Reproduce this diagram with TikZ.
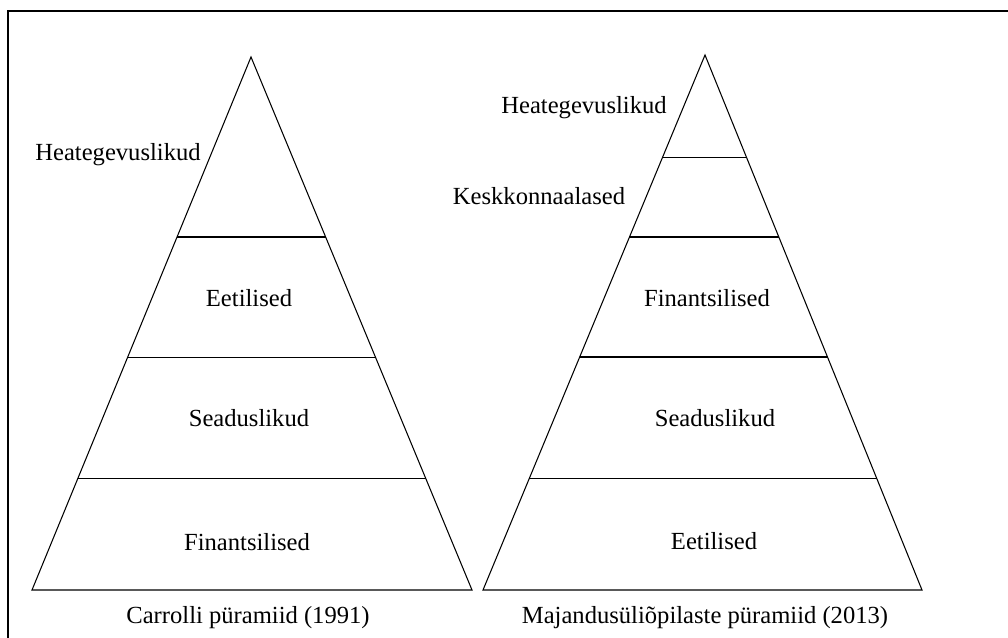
\documentclass[tikz,border=0pt]{standalone}
\usepackage{fontspec}
\setmainfont{Liberation Serif}
\usetikzlibrary{calc}

\begin{document}
\begin{tikzpicture}[
        x=0.02cm, y=-0.02cm,
        edge/.style = {
            draw=black,
            line width=0.6pt
        },
        frame/.style = {
            draw=black,
            line width=1.2pt
        },
        level/.style = {
            inner sep=0pt,
            font=\fontsize{14}{16}\selectfont
        }
    ]
    \useasboundingbox (0,0) rectangle (1008,637);

    % Frame
    \coordinate (fbl) at (8,640);
    \coordinate (ftl) at (8,11);
    \coordinate (ftr) at (1010,11);
    \draw[frame] (fbl) -- (ftl) -- (ftr);

    % Carroll pyramid
    \coordinate (ctop) at (251,57);
    \coordinate (cleft) at (32,590);
    \coordinate (cright) at (472,590);
    \draw[edge] (ctop) -- (cleft) -- (cright) -- cycle;
    \foreach \t/\n in {0.3377/a, 0.5629/b, 0.7899/c} {
        \coordinate (cl\n) at ($(ctop)!\t!(cleft)$);
        \coordinate (cr\n) at ($(ctop)!\t!(cright)$);
        \draw[edge] (cl\n) -- (cr\n);
    }

    % Students pyramid
    \coordinate (mtop) at (705,55);
    \coordinate (mleft) at (483,590);
    \coordinate (mright) at (922,590);
    \draw[edge] (mtop) -- (mleft) -- (mright) -- cycle;
    \foreach \t/\n in {0.1907/a, 0.3402/b, 0.5645/c, 0.7907/d} {
        \coordinate (ml\n) at ($(mtop)!\t!(mleft)$);
        \coordinate (mr\n) at ($(mtop)!\t!(mright)$);
        \draw[edge] (ml\n) -- (mr\n);
    }

    % Labels
    \node[level] (cchar) at (118,155) {Heategevuslikud};
    \node[level] (ceth)  at (249,298) {Eetilised};
    \node[level] (claw)  at (249,418) {Seaduslikud};
    \node[level] (cfin)  at (247,542) {Finantsilised};
    \node[level] (ccap)  at (248,618) {Carrolli püramiid (1991)};

    \node[level] (mchar) at (584,108) {Heategevuslikud};
    \node[level] (menv)  at (539,196) {Keskkonnaalased};
    \node[level] (mfin)  at (707,298) {Finantsilised};
    \node[level] (mlaw)  at (715,418) {Seaduslikud};
    \node[level] (meth)  at (714,541) {Eetilised};
    \node[level] (mcap)  at (705,618) {Majandusüliõpilaste püramiid (2013)};

\end{tikzpicture}
\end{document}
